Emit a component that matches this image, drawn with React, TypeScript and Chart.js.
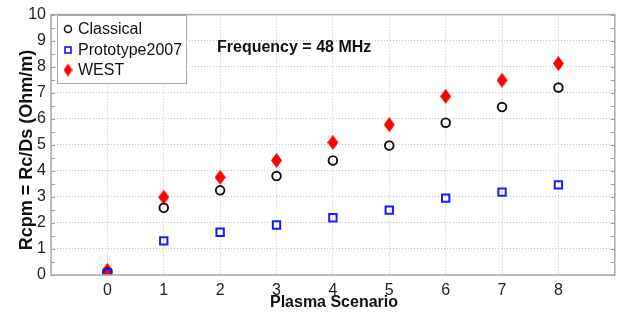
import React, { useEffect, useRef } from "react";
import { Chart, registerables } from "chart.js";

Chart.register(...registerables);

const scenarios = [0, 1, 2, 3, 4, 5, 6, 7, 8];
const classical = [0.1, 2.58, 3.25, 3.8, 4.4, 4.97, 5.85, 6.45, 7.2];
const prototype2007 = [0.08, 1.31, 1.64, 1.92, 2.2, 2.49, 2.95, 3.18, 3.46];
const west = [0.18, 2.99, 3.75, 4.4, 5.09, 5.77, 6.86, 7.48, 8.12];
const seriesNames = ["Classical", "Prototype2007", "WEST"];
const xTitle = "Plasma Scenario";
const yTitle = "Rcpm = Rc/Ds (Ohm/m)";
const annotation = "Frequency = 48 MHz";

const FONT = "'Liberation Sans', Arial, sans-serif";

function makeDiamond(w: number, h: number, color: string) {
  const c = document.createElement("canvas");
  c.width = w;
  c.height = h;
  const ctx = c.getContext("2d")!;
  ctx.fillStyle = color;
  ctx.beginPath();
  ctx.moveTo(w / 2, 0);
  ctx.lineTo(w, h / 2);
  ctx.lineTo(w / 2, h);
  ctx.lineTo(0, h / 2);
  ctx.closePath();
  ctx.fill();
  return c;
}

export default function App() {
  const ref = useRef<HTMLCanvasElement>(null);
  useEffect(() => {
    const diamond = makeDiamond(11, 15, "#ff0000");
    const pts = (arr: number[]) => scenarios.map((x, i) => ({ x, y: arr[i] }));

    const overlay = {
      id: "overlay",
      afterDraw(chart: any) {
        const { ctx, chartArea: a, scales } = chart;
        const ys = scales.y;
        ctx.save();
        // frame
        ctx.strokeStyle = "#a8a8a8";
        ctx.lineWidth = 1.5;
        ctx.strokeRect(a.left, a.top, a.right - a.left, a.bottom - a.top);
        // minor ticks
        ctx.lineWidth = 1;
        ctx.strokeStyle = "#a0a0a0";
        for (let v = 0; v <= 10; v += 0.5) {
          const y = Math.round(ys.getPixelForValue(v)) + 0.5;
          ctx.beginPath();
          ctx.moveTo(a.left, y);
          ctx.lineTo(a.left + 4, y);
          ctx.moveTo(a.right, y);
          ctx.lineTo(a.right - 4, y);
          ctx.stroke();
        }
        // annotation
        ctx.fillStyle = "#111";
        ctx.font = `bold 16px ${FONT}`;
        ctx.textBaseline = "middle";
        ctx.textAlign = "left";
        ctx.fillText(annotation, 217, 48);
        // x title
        ctx.textAlign = "center";
        ctx.fillText(xTitle, 334, 303);
        // y title
        ctx.save();
        ctx.translate(27, 150);
        ctx.rotate(-Math.PI / 2);
        ctx.font = `bold 18px ${FONT}`;
        ctx.fillText(yTitle, 0, 0);
        ctx.restore();
        // legend
        const lx = 57, ly = 15, lw = 129, lh = 68;
        ctx.fillStyle = "#ffffff";
        ctx.fillRect(lx, ly, lw, lh);
        ctx.strokeStyle = "#a8a8a8";
        ctx.lineWidth = 1;
        ctx.strokeRect(lx + 0.5, ly + 0.5, lw, lh);
        const rows = [29, 50, 70];
        ctx.font = `16px ${FONT}`;
        ctx.textAlign = "left";
        ctx.fillStyle = "#111";
        seriesNames.forEach((n, i) => ctx.fillText(n, 78, rows[i] + 1));
        // markers
        ctx.lineWidth = 1.5;
        ctx.strokeStyle = "#111";
        ctx.beginPath();
        ctx.arc(68, rows[0], 3.5, 0, Math.PI * 2);
        ctx.stroke();
        ctx.strokeStyle = "#0000ff";
        ctx.strokeRect(65, rows[1] - 3, 6, 6);
        ctx.drawImage(makeDiamond(9, 13, "#ff0000"), 68 - 4.5, rows[2] - 6.5);
        ctx.restore();
      },
    };

    const chart = new Chart(ref.current!, {
      type: "scatter",
      data: {
        datasets: [
          {
            label: seriesNames[0],
            data: pts(classical),
            pointStyle: "circle",
            pointRadius: 4.3,
            borderColor: "#111",
            backgroundColor: "rgba(0,0,0,0)",
            borderWidth: 1.9,
            order: 1,
          },
          {
            label: seriesNames[1],
            data: pts(prototype2007),
            pointStyle: "rect",
            pointRadius: 5.2,
            borderColor: "#1a1aff",
            backgroundColor: "rgba(0,0,0,0)",
            borderWidth: 2,
            order: 0,
          },
          {
            label: seriesNames[2],
            data: pts(west),
            pointStyle: diamond as any,
            pointRadius: 6,
            borderColor: "#ff0000",
            backgroundColor: "#ff0000",
            order: 2,
          },
        ],
      },
      options: {
        animation: false,
        responsive: false,
        events: [],
        layout: { padding: { top: 10, right: 3, left: 0, bottom: 0 } },
        plugins: { legend: { display: false }, tooltip: { enabled: false } },
        scales: {
          x: {
            type: "linear",
            min: -1,
            max: 9,
            afterFit: (s: any) => {
              s.height = 38;
            },
            ticks: {
              stepSize: 1,
              color: "#222",
              font: { family: FONT, size: 16 },
              padding: 6,
              maxRotation: 0,
              autoSkip: false,
              callback: (v: any) => (v >= 0 && v <= 8 ? String(v) : ""),
            },
            grid: { color: "#c4c4c4", drawTicks: false, lineWidth: 1 },
            border: { display: false, dash: [1, 2] },
          },
          y: {
            min: 0,
            max: 10,
            afterFit: (s: any) => {
              s.width = 51;
            },
            ticks: {
              stepSize: 1,
              color: "#222",
              font: { family: FONT, size: 16 },
              padding: 5,
            },
            grid: { color: "#c4c4c4", drawTicks: false, lineWidth: 1 },
            border: { display: false, dash: [1, 2] },
          },
        },
      },
      plugins: [overlay],
    });
    return () => chart.destroy();
  }, []);
  return (
    <div style={{ position: "absolute", left: 0, top: 0, width: 622, height: 313, background: "#fff" }}>
      <canvas ref={ref} width={622} height={313} style={{ width: 622, height: 313 }} />
    </div>
  );
}
